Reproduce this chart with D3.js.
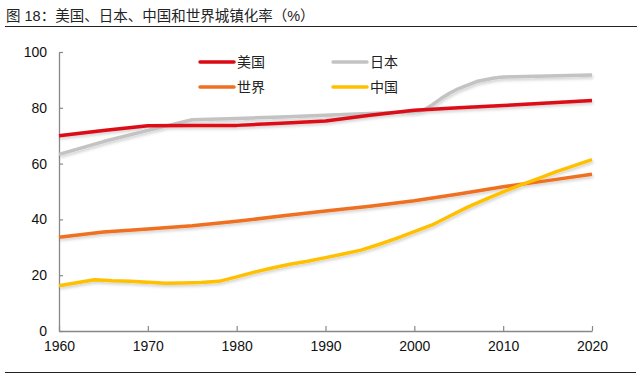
<!DOCTYPE html>
<html>
<head>
<meta charset="utf-8">
<script src="https://cdn.jsdelivr.net/npm/d3@7"></script>
<style>
    body { margin: 0; background: #fff; }
    svg { display: block; font-family: "Liberation Sans", Arial, sans-serif; }
    .cjk { font-family: "Noto Sans CJK SC", sans-serif; }
</style>
</head>
<body>
<div id="chart"></div>
<script>
// Data (urbanization rate, %)
const titleText = '图 18：美国、日本、中国和世界城镇化率（%）';
const xTicks = [1960, 1970, 1980, 1990, 2000, 2010, 2020];
const yTicks = [0, 20, 40, 60, 80, 100];

const usYears = [1960, 1965, 1970, 1975, 1980, 1985, 1990, 1995, 2000, 2005, 2010, 2015, 2020];
const usValues = [70.0, 71.9, 73.6, 73.7, 73.7, 74.5, 75.3, 77.3, 79.1, 80.0, 80.8, 81.7, 82.6];

const japanYears = [1960, 1965, 1970, 1975, 1980, 1985, 1990, 1995, 2000, 2001, 2002, 2003, 2004, 2005, 2007, 2009, 2010, 2015, 2020];
const japanValues = [63.3, 67.9, 71.9, 75.7, 76.2, 76.7, 77.3, 78.0, 78.6, 79.0, 81.0, 83.3, 85.3, 86.9, 89.4, 90.7, 91.0, 91.4, 91.8];

const worldYears = [1960, 1965, 1970, 1975, 1980, 1985, 1990, 1995, 2000, 2005, 2010, 2015, 2020];
const worldValues = [33.6, 35.5, 36.6, 37.7, 39.3, 41.2, 43.0, 44.7, 46.7, 49.1, 51.7, 53.9, 56.2];

const chinaYears = [1960, 1962, 1964, 1966, 1968, 1970, 1972, 1974, 1976, 1978, 1980, 1982, 1984, 1986, 1988,
    1990, 1992, 1994, 1996, 1998, 2000, 2002, 2004, 2006, 2008, 2010, 2012, 2014, 2016, 2018, 2020];
const chinaValues = [16.2, 17.3, 18.4, 18.0, 17.8, 17.5, 17.1, 17.2, 17.4, 17.8, 19.4, 21.1, 22.6, 23.9, 25.0,
    26.3, 27.6, 29.0, 31.0, 33.2, 35.6, 38.0, 41.2, 44.4, 47.2, 49.9, 52.4, 54.7, 57.1, 59.3, 61.4];

const series = [
    { name: '世界', years: worldYears, values: worldValues, color: '#f07021' },
    { name: '中国', years: chinaYears, values: chinaValues, color: '#ffc000' },
    { name: '日本', years: japanYears, values: japanValues, color: '#c3c3c3' },
    { name: '美国', years: usYears, values: usValues, color: '#dc0a14' }
];

const width = 640, height = 376;
const margin = { top: 52, right: 48, bottom: 45, left: 59 };

const svg = d3.select('#chart').append('svg')
    .attr('width', width)
    .attr('height', height);

// soft shadow under the lines
const defs = svg.append('defs');
defs.append('filter')
    .attr('id', 'shadow')
    .attr('x', '-5%').attr('y', '-20%').attr('width', '110%').attr('height', '140%')
    .append('feDropShadow')
    .attr('dx', 1).attr('dy', 2)
    .attr('stdDeviation', 1.5)
    .attr('flood-color', '#000')
    .attr('flood-opacity', 0.18);

// Title + rules
svg.append('text')
    .attr('x', 6)
    .attr('y', 21)
    .style('font-family', '"Liberation Sans", "Noto Sans CJK SC", sans-serif')
    .style('font-size', '14.5px')
    .attr('fill', '#222')
    .text(titleText);

svg.append('line')
    .attr('x1', 5).attr('x2', 637)
    .attr('y1', 26.5).attr('y2', 26.5)
    .attr('stroke', '#222').attr('stroke-width', 1);

svg.append('line')
    .attr('x1', 5).attr('x2', 636)
    .attr('y1', 372.5).attr('y2', 372.5)
    .attr('stroke', '#222').attr('stroke-width', 1);

const scaleX = d3.scaleLinear()
    .domain([1960, 2020])
    .range([margin.left, width - margin.right]);

const scaleY = d3.scaleLinear()
    .domain([0, 100])
    .range([height - margin.bottom, margin.top]);

// Axes
const axisY = svg.append('g')
    .attr('transform', `translate(${margin.left}, 0)`)
    .call(d3.axisLeft(scaleY).tickValues(yTicks).tickSizeInner(-4).tickSizeOuter(0).tickPadding(12));

const axisX = svg.append('g')
    .attr('transform', `translate(0, ${height - margin.bottom})`)
    .call(d3.axisBottom(scaleX).tickValues(xTicks).tickFormat(d3.format('d')).tickSizeInner(-5).tickSizeOuter(0).tickPadding(10));

[axisY, axisX].forEach(ax => {
    ax.select('.domain').attr('stroke', '#888').attr('stroke-width', 1.3);
    ax.selectAll('.tick line').attr('stroke', '#888').attr('stroke-width', 1.2);
    ax.selectAll('.tick text')
        .attr('fill', '#111')
        .style('font-size', '14px')
        .style('font-family', '"Liberation Sans", Arial, sans-serif');
});

// Lines
const line = d3.line()
    .x(d => scaleX(d[0]))
    .y(d => scaleY(d[1]));

svg.append('g')
    .attr('filter', 'url(#shadow)')
    .selectAll('path')
    .data(series)
    .join('path')
    .attr('fill', 'none')
    .attr('stroke', d => d.color)
    .attr('stroke-width', 3.5)
    .attr('stroke-linejoin', 'round')
    .attr('d', d => line(d.years.map((y, i) => [y, d.values[i]])));

// Legend
const legendItems = [
    { name: '美国', color: '#dc0a14', x: 200, y: 62 },
    { name: '日本', color: '#c3c3c3', x: 333, y: 62 },
    { name: '世界', color: '#f07021', x: 200, y: 87 },
    { name: '中国', color: '#ffc000', x: 333, y: 87 }
];

const legend = svg.append('g')
    .selectAll('g')
    .data(legendItems)
    .join('g')
    .attr('transform', d => `translate(${d.x}, ${d.y})`);

legend.append('line')
    .attr('x1', 0).attr('x2', 34)
    .attr('stroke', d => d.color)
    .attr('stroke-width', 3.5)
    .attr('stroke-linecap', 'round');

legend.append('text')
    .attr('class', 'cjk')
    .attr('x', 37)
    .attr('dy', '0.35em')
    .style('font-size', '14px')
    .attr('fill', '#222')
    .text(d => d.name);
</script>
</body>
</html>
